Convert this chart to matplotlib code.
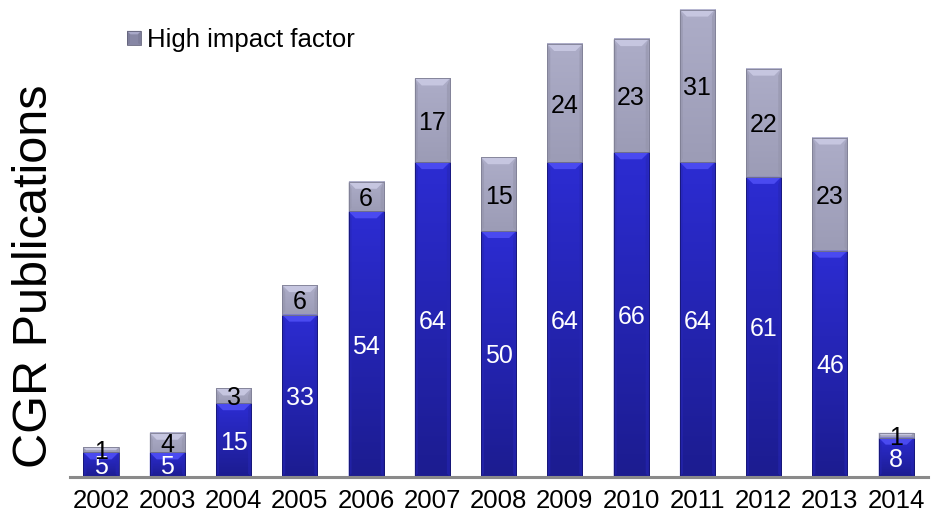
import matplotlib
matplotlib.use("Agg")
import matplotlib.pyplot as plt
from matplotlib.patches import Polygon, Rectangle, Patch
from matplotlib.legend_handler import HandlerBase
from matplotlib.colors import to_rgb, LinearSegmentedColormap
import numpy as np

# ---- data ----
years = ["2002", "2003", "2004", "2005", "2006", "2007", "2008",
         "2009", "2010", "2011", "2012", "2013", "2014"]
standard = [5, 5, 15, 33, 54, 64, 50, 64, 66, 64, 61, 46, 8]
high_impact = [1, 4, 3, 6, 6, 17, 15, 24, 23, 31, 22, 23, 1]
legend_label = "High impact factor"
ylabel = "CGR Publications"

plt.rcParams['font.family'] = ['Liberation Sans', 'DejaVu Sans']

W, H = 938, 520
fig = plt.figure(figsize=(W / 100, H / 100), dpi=100)
ax = fig.add_axes([70 / W, 43 / H, (928 - 70) / W, 477 / H])
XMIN, XMAX = -0.468, 12.48
YMAX = 96.95

# pixels per data unit, used to keep the bevel a constant pixel size
ppx = (928 - 70) / (XMAX - XMIN)
ppy = 477 / YMAX


def mix(c, f):
    r = np.array(to_rgb(c))
    if f >= 0:
        return tuple(r + (1 - r) * f)
    return tuple(r * (1 + f))


# (bottom colour, top colour, lit top face) of each series
BLUE = ("#1c1c90", "#2c2cd2", "#4a4af0")
GRAY = ("#9c9cb6", "#adadc8", "#c6c6e0")


def bevel_patches(x0, x1, y0, y1, cols, sx, sy, bev=7.0, transform=None):
    """Beveled box: lit top face, slightly shaded sides, thin outline."""
    base = mix(cols[1], -0.05)
    w_px = (x1 - x0) * sx
    h_px = (y1 - y0) * sy
    b = min(bev, h_px / 2.0, w_px / 2.0)
    bx, by = b / sx, b / sy
    side_b = min(b, 3.0) / sx
    kw = dict(linewidth=0, transform=transform) if transform else dict(linewidth=0)
    side_c = mix(base, -0.10)
    out = []
    if transform is not None:
        out.append(Rectangle((x0, y0), x1 - x0, y1 - y0, facecolor=base, **kw))
    out.append(Polygon([(x0, y0), (x0 + side_b, y0 + by * 0.5), (x0 + side_b, y1 - by), (x0, y1)],
                       closed=True, facecolor=side_c, alpha=0.6, **kw))
    out.append(Polygon([(x1, y0), (x1 - side_b, y0 + by * 0.5), (x1 - side_b, y1 - by), (x1, y1)],
                       closed=True, facecolor=side_c, alpha=0.6, **kw))
    out.append(Polygon([(x0, y1), (x1, y1), (x1 - bx, y1 - by), (x0 + bx, y1 - by)],
                       closed=True, facecolor=cols[2], **kw))
    ekw = dict(transform=transform) if transform else {}
    out.append(Rectangle((x0, y0), x1 - x0, y1 - y0, facecolor="none",
                         edgecolor=mix(cols[0], -0.2), linewidth=0.6, **ekw))
    return out


x = np.arange(len(years))
bw = 0.53
grad = np.linspace(1, 0, 64).reshape(-1, 1)

for i in range(len(years)):
    x0, x1 = x[i] - bw / 2, x[i] + bw / 2
    s, h = standard[i], high_impact[i]
    for y0, y1, cols in ((0, s, BLUE), (s, s + h, GRAY)):
        cmap = LinearSegmentedColormap.from_list("g", list(cols[:2]))
        ax.imshow(grad, extent=[x0, x1, y0, y1], aspect="auto", cmap=cmap,
                  vmin=0, vmax=1, interpolation="bilinear", zorder=2)
        for p in bevel_patches(x0, x1, y0, y1, cols, ppx, ppy):
            p.set_zorder(3)
            ax.add_patch(p)
    ax.text(x[i], s / 2, str(s), ha="center", va="center_baseline",
            fontsize=18, color="white", zorder=5)
    ax.text(x[i], s + h / 2, str(h), ha="center", va="center_baseline",
            fontsize=18, color="black", zorder=5)

ax.set_xlim(XMIN, XMAX)
ax.set_ylim(0, YMAX)
ax.set_xticks(x, years)
ax.tick_params(axis="x", length=0, pad=9, labelsize=18.5)
ax.set_yticks([])
for side in ("left", "right", "top"):
    ax.spines[side].set_visible(False)
ax.spines["bottom"].set_color("#8a8a8a")
ax.spines["bottom"].set_linewidth(2.2)
ax.spines["bottom"].set_zorder(6)

fig.text(35 / W, 1 - 276 / H, ylabel, rotation=90, ha="center", va="center",
         fontsize=35)


class BevelHandler(HandlerBase):
    def create_artists(self, legend, orig_handle, xdescent, ydescent,
                       width, height, fontsize, trans):
        s = min(width, height)
        x0 = -xdescent + (width - s) / 2
        y0 = -ydescent + (height - s) / 2
        sc = 100 / 72.0
        return bevel_patches(x0, x0 + s, y0, y0 + s, ("#7a7a98", "#8e8eae", "#a8a8c8"),
                             sc, sc, bev=3.5, transform=trans)


ax.legend(handles=[Patch(facecolor=GRAY[1], label=legend_label)],
          handler_map={Patch: BevelHandler()},
          loc="upper left", bbox_to_anchor=(127 / W, 1 - 28 / H),
          bbox_transform=fig.transFigure, frameon=False, fontsize=18.5,
          handlelength=0.55, handleheight=0.55, handletextpad=0.22,
          borderpad=0, borderaxespad=0)

fig.savefig("out.png", dpi=100)
